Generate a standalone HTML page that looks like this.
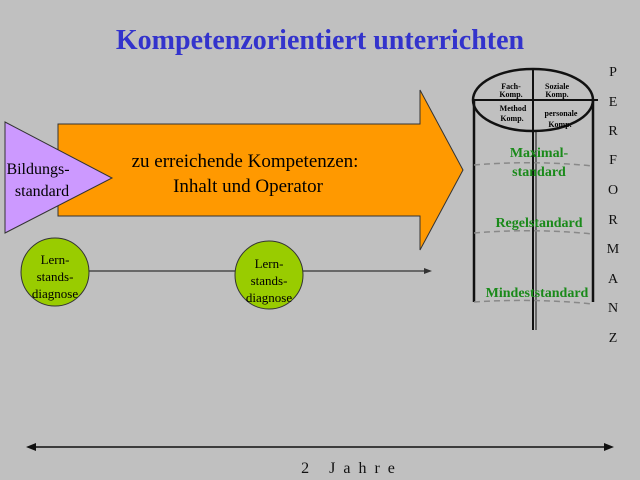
<!DOCTYPE html>
<html><head><style>
body{margin:0;width:640px;height:480px;background:#c0c0c0;overflow:hidden}
svg{display:block}
text{font-family:"Liberation Serif",serif}
</style></head><body>
<svg width="640" height="480" viewBox="0 0 640 480">
<text x="320" y="49" text-anchor="middle" font-size="28" font-weight="bold" fill="#3333cc">Kompetenzorientiert unterrichten</text>
<polygon points="58,124 420,124 420,90 463,170 420,250 420,216 58,216" fill="#ff9900" stroke="#333" stroke-width="1"/>
<text x="245" y="167" text-anchor="middle" font-size="19" fill="#000">zu erreichende Kompetenzen:</text>
<text x="248" y="192" text-anchor="middle" font-size="19" fill="#000">Inhalt und Operator</text>
<polygon points="5,122 112,178 5,233" fill="#cc99ff" stroke="#333" stroke-width="1"/>
<text x="38" y="174" text-anchor="middle" font-size="16" fill="#000">Bildungs-</text>
<text x="42" y="196" text-anchor="middle" font-size="16" fill="#000">standard</text>
<line x1="88" y1="271" x2="426" y2="271" stroke="#333" stroke-width="1.2"/>
<polygon points="432,271 424,268 424,274" fill="#333"/>
<circle cx="55" cy="272" r="34" fill="#99cc00" stroke="#333"/>
<text x="55" y="264" text-anchor="middle" font-size="13">Lern-</text>
<text x="55" y="281" text-anchor="middle" font-size="13">stands-</text>
<text x="55" y="298" text-anchor="middle" font-size="13">diagnose</text>
<circle cx="269" cy="275" r="34" fill="#99cc00" stroke="#333"/>
<text x="269" y="268" text-anchor="middle" font-size="13">Lern-</text>
<text x="269" y="285" text-anchor="middle" font-size="13">stands-</text>
<text x="269" y="302" text-anchor="middle" font-size="13">diagnose</text>
<ellipse cx="533" cy="100" rx="60" ry="31" fill="none" stroke="#111" stroke-width="2.5"/>
<line x1="474" y1="100" x2="474" y2="302" stroke="#111" stroke-width="2.5"/>
<line x1="593" y1="100" x2="593" y2="302" stroke="#111" stroke-width="2.5"/>
<line x1="472" y1="100" x2="598" y2="100" stroke="#111" stroke-width="2"/>
<line x1="533" y1="69" x2="533" y2="330" stroke="#111" stroke-width="2"/>
<line x1="536" y1="130" x2="536" y2="330" stroke="#111" stroke-width="1"/>
<g stroke="#888" stroke-dasharray="6,4" stroke-width="1.5" fill="none">
<path d="M474,165 Q533,160 593,166"/>
<path d="M474,233 Q533,228 593,234"/>
<path d="M474,302 Q533,298 593,304"/>
</g>
<g font-size="8" font-weight="bold" text-anchor="middle">
<text x="511" y="89">Fach-</text><text x="511" y="97">Komp.</text>
<text x="557" y="89">Soziale</text><text x="557" y="97">Komp.</text>
<text x="513" y="111">Method</text><text x="512" y="121">Komp.</text>
<text x="561" y="116">personale</text><text x="560" y="127">Komp.</text>
</g>
<g font-size="14" font-weight="bold" fill="#1a8a1a" text-anchor="middle">
<text x="539" y="157">Maximal-</text>
<text x="539" y="176">standard</text>
<text x="539" y="227">Regelstandard</text>
<text x="537" y="297">Mindeststandard</text>
</g>
<g font-size="14" text-anchor="middle" fill="#111">
<text x="613" y="76">P</text><text x="613" y="106">E</text><text x="613" y="135">R</text>
<text x="613" y="164">F</text><text x="613" y="194">O</text><text x="613" y="224">R</text>
<text x="613" y="253">M</text><text x="613" y="283">A</text><text x="613" y="312">N</text>
<text x="613" y="342">Z</text>
</g>
<line x1="32" y1="447" x2="608" y2="447" stroke="#111" stroke-width="1.5"/>
<polygon points="26,447 36,443 36,451" fill="#111"/>
<polygon points="614,447 604,443 604,451" fill="#111"/>
<text x="352" y="473" text-anchor="middle" font-size="16" letter-spacing="8" fill="#111">2 Jahre</text>
</svg>
</body></html>
